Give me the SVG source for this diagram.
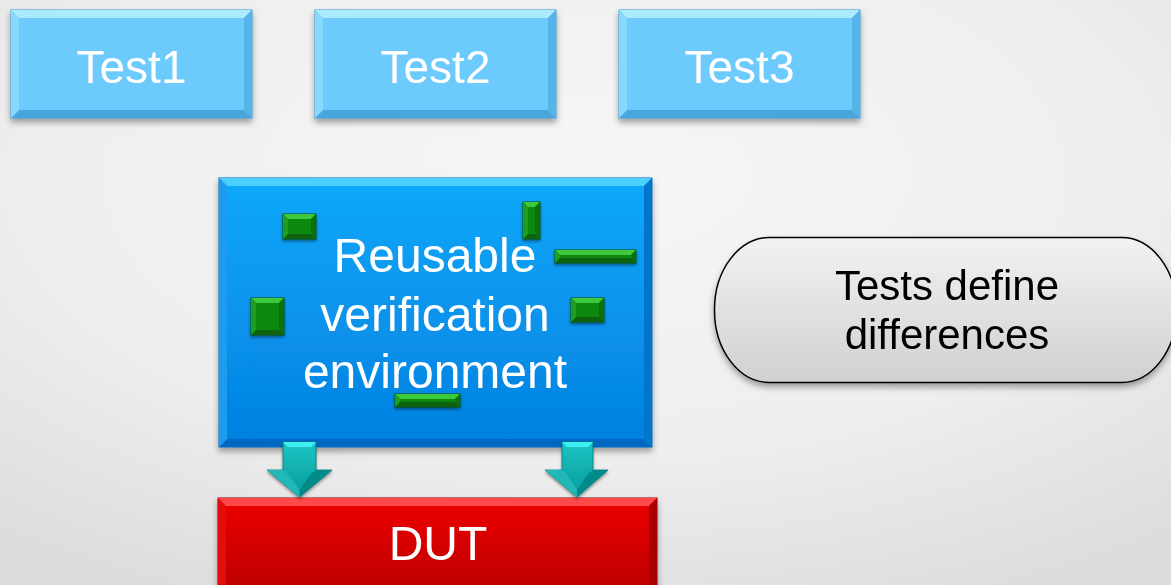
<svg xmlns="http://www.w3.org/2000/svg" width="1171" height="585" viewBox="0 0 1171 585">
<defs>
<radialGradient id="bg" cx="0.5" cy="0.3" r="0.8">
<stop offset="0" stop-color="#f6f6f6"/>
<stop offset="0.6" stop-color="#eeeeee"/>
<stop offset="1" stop-color="#dcdcdc"/>
</radialGradient>
<linearGradient id="envg" x1="0" y1="0" x2="0" y2="1">
<stop offset="0" stop-color="#0aa8fa"/>
<stop offset="1" stop-color="#0580e0"/>
</linearGradient>
<linearGradient id="dutg" x1="0" y1="0" x2="0" y2="1">
<stop offset="0" stop-color="#ee0000"/>
<stop offset="1" stop-color="#b80000"/>
</linearGradient>
<linearGradient id="ovalg" x1="0" y1="0" x2="0" y2="1">
<stop offset="0" stop-color="#f2f2f2"/>
<stop offset="1" stop-color="#d0d0d0"/>
</linearGradient>
<linearGradient id="arrg" x1="0" y1="0" x2="0" y2="1">
<stop offset="0" stop-color="#1cc4c4"/>
<stop offset="1" stop-color="#079a9a"/>
</linearGradient>
<filter id="sh" x="-10%" y="-10%" width="120%" height="130%">
<feDropShadow dx="0" dy="4" stdDeviation="3" flood-color="#000" flood-opacity="0.35"/>
</filter>
<filter id="shs" x="-20%" y="-20%" width="140%" height="160%">
<feDropShadow dx="0" dy="2" stdDeviation="1.5" flood-color="#000" flood-opacity="0.4"/>
</filter>
</defs>
<style>
.t{font-family:"Liberation Sans",Arial,sans-serif;text-anchor:middle}
.w{fill:#ffffff}
.k{fill:#000000}
.tb{fill:#6ccbfc;stroke:#3f93c8;stroke-width:1}
.tbT{fill:#a8ecfe}
.tbB{fill:#4aa6dc}
.tbL{fill:#86d8fc}
.tbR{fill:#55b4e8}
.gb{fill:#0a8a0a;stroke:#06500a;stroke-width:1}
.gT{fill:#3cc83c}
.gB{fill:#076407}
.gL{fill:#1aa01a}
.gR{fill:#0a700a}
</style>
<rect x="0" y="0" width="1171" height="585" fill="url(#bg)"/>

<g id="test1" filter="url(#sh)">
<rect class="tb" x="11" y="10" width="241" height="108"/>
<polygon class="tbT" points="11,10 252,10 244,18 19,18"/>
<polygon class="tbB" points="11,118 252,118 244,110 19,110"/>
<polygon class="tbL" points="11,10 19,18 19,110 11,118"/>
<polygon class="tbR" points="252,10 244,18 244,110 252,118"/>
<text class="t w" x="131.5" y="83" font-size="46">Test1</text>
</g>
<g id="test2" filter="url(#sh)">
<rect class="tb" x="315" y="10" width="241" height="108"/>
<polygon class="tbT" points="315,10 556,10 548,18 323,18"/>
<polygon class="tbB" points="315,118 556,118 548,110 323,110"/>
<polygon class="tbL" points="315,10 323,18 323,110 315,118"/>
<polygon class="tbR" points="556,10 548,18 548,110 556,118"/>
<text class="t w" x="435.5" y="83" font-size="46">Test2</text>
</g>
<g id="test3" filter="url(#sh)">
<rect class="tb" x="619" y="10" width="241" height="108"/>
<polygon class="tbT" points="619,10 860,10 852,18 627,18"/>
<polygon class="tbB" points="619,118 860,118 852,110 627,110"/>
<polygon class="tbL" points="619,10 627,18 627,110 619,118"/>
<polygon class="tbR" points="860,10 852,18 852,110 860,118"/>
<text class="t w" x="739.5" y="83" font-size="46">Test3</text>
</g>

<g id="env" filter="url(#sh)">
<rect x="219" y="178" width="433" height="269" fill="url(#envg)" stroke="#0668b8" stroke-width="1"/>
<polygon points="219,178 652,178 644,186 227,186" fill="#48d0fc"/>
<polygon points="219,447 652,447 644,439 227,439" fill="#0668c0"/>
<polygon points="219,178 227,186 227,439 219,447" fill="#1a9cf0"/>
<polygon points="652,178 644,186 644,439 652,447" fill="#0674cc"/>
<text class="t w" x="435" y="272" font-size="48">Reusable</text>
<text class="t w" x="435" y="331" font-size="48">verification</text>
<text class="t w" x="435" y="388" font-size="48">environment</text>
</g>

<g id="blocks">
<g id="blk1" filter="url(#shs)">
<rect class="gb" x="283" y="214" width="33" height="25"/>
<polygon class="gT" points="283,214 316,214 311,219 288,219"/>
<polygon class="gB" points="283,239 316,239 311,234 288,234"/>
<polygon class="gL" points="283,214 288,219 288,234 283,239"/>
<polygon class="gR" points="316,214 311,219 311,234 316,239"/>
</g>
<g id="blk2" filter="url(#shs)">
<rect class="gb" x="523" y="202" width="17" height="37"/>
<polygon class="gT" points="523,202 540,202 535,207 528,207"/>
<polygon class="gB" points="523,239 540,239 535,234 528,234"/>
<polygon class="gL" points="523,202 528,207 528,234 523,239"/>
<polygon class="gR" points="540,202 535,207 535,234 540,239"/>
</g>
<g id="blk3" filter="url(#shs)">
<rect class="gb" x="555" y="250" width="81" height="13"/>
<polygon class="gT" points="555,250 636,250 631,255 560,255"/>
<polygon class="gB" points="555,263 636,263 631,258 560,258"/>
<polygon class="gL" points="555,250 560,255 560,258 555,263"/>
<polygon class="gR" points="636,250 631,255 631,258 636,263"/>
</g>
<g id="blk4" filter="url(#shs)">
<rect class="gb" x="251" y="298" width="33" height="37"/>
<polygon class="gT" points="251,298 284,298 279,303 256,303"/>
<polygon class="gB" points="251,335 284,335 279,330 256,330"/>
<polygon class="gL" points="251,298 256,303 256,330 251,335"/>
<polygon class="gR" points="284,298 279,303 279,330 284,335"/>
</g>
<g id="blk5" filter="url(#shs)">
<rect class="gb" x="571" y="298" width="33" height="24"/>
<polygon class="gT" points="571,298 604,298 599,303 576,303"/>
<polygon class="gB" points="571,322 604,322 599,317 576,317"/>
<polygon class="gL" points="571,298 576,303 576,317 571,322"/>
<polygon class="gR" points="604,298 599,303 599,317 604,322"/>
</g>
<g id="blk6" filter="url(#shs)">
<rect class="gb" x="395" y="394" width="65" height="13"/>
<polygon class="gT" points="395,394 460,394 455,399 400,399"/>
<polygon class="gB" points="395,407 460,407 455,402 400,402"/>
<polygon class="gL" points="395,394 400,399 400,402 395,407"/>
<polygon class="gR" points="460,394 455,399 455,402 460,407"/>
</g>
</g>

<g id="dut" filter="url(#sh)">
<rect x="218" y="498" width="439" height="100" fill="url(#dutg)" stroke="#900000" stroke-width="1"/>
<polygon points="218,498 657,498 649,506 226,506" fill="#ff4a4a"/>
<polygon points="218,498 226,506 226,590 218,598" fill="#e21010"/>
<polygon points="657,498 649,506 649,590 657,598" fill="#a80000"/>
<text class="t w" x="438" y="560" font-size="48">DUT</text>
</g>

<g id="note" filter="url(#sh)">
<rect x="714.5" y="237.5" width="462" height="145" rx="55" ry="72" fill="url(#ovalg)" stroke="#000" stroke-width="1.5"/>
<text class="t k" x="947" y="300" font-size="42">Tests define</text>
<text class="t k" x="947" y="349" font-size="42">differences</text>
</g>

<g id="connectors" filter="url(#shs)">
<g id="arrow1">
<polygon points="283,442 316,442 316,470 332,470 299.5,497 267,470 283,470" fill="url(#arrg)" stroke="#067878" stroke-width="0.8"/>
<polygon points="283,442 316,442 311,447 288,447" fill="#3ef0f0"/>
<polygon points="267,470 283,470 288,474 299.5,490 299.5,497" fill="#20b8b8"/>
<polygon points="332,470 316,470 311,474 299.5,490 299.5,497" fill="#068a8a"/>
</g>
<g id="arrow2">
<polygon points="562,442 593,442 593,470 608,470 577,497 545,470 562,470" fill="url(#arrg)" stroke="#067878" stroke-width="0.8"/>
<polygon points="562,442 593,442 588,447 567,447" fill="#3ef0f0"/>
<polygon points="545,470 562,470 567,474 577,490 577,497" fill="#20b8b8"/>
<polygon points="608,470 593,470 588,474 577,490 577,497" fill="#068a8a"/>
</g>
</g>
</svg>
